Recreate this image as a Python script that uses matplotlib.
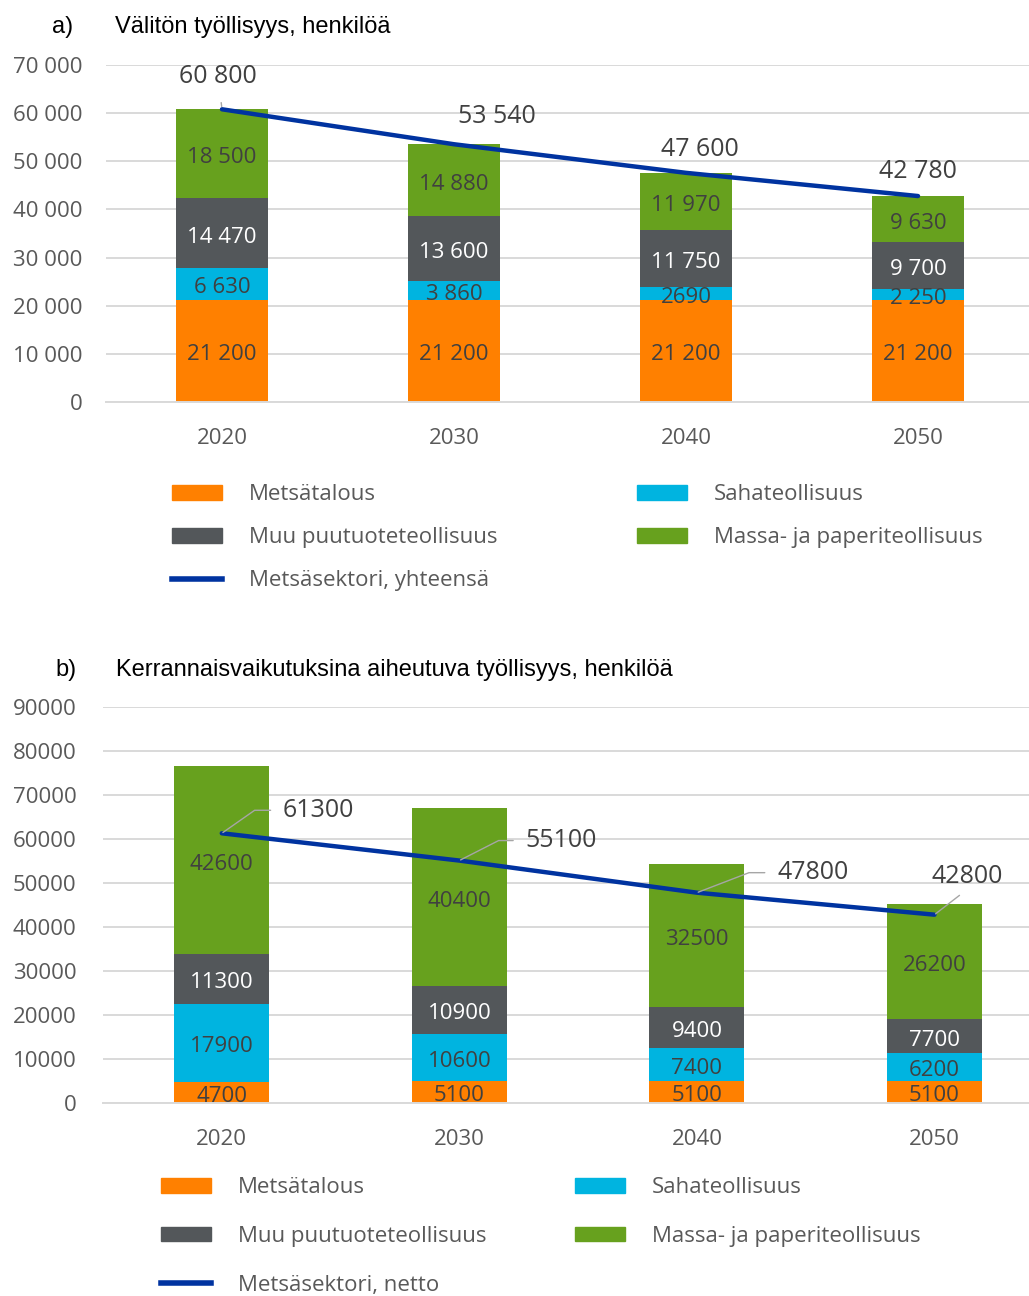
import matplotlib.pyplot as plt
from matplotlib.patches import Patch
from matplotlib.lines import Line2D

# Työllisyys metsäsektorilla 2020-2050
years = ["2020", "2030", "2040", "2050"]
sectors = ["Metsätalous", "Sahateollisuus", "Muu puutuoteteollisuus", "Massa- ja paperiteollisuus"]
colors = ["#FF8000", "#00B4E0", "#53575A", "#67A11E"]
txt_colors = ["#404040", "#404040", "white", "#404040"]

# a) välitön työllisyys
a_metsa = [21200, 21200, 21200, 21200]
a_saha = [6630, 3860, 2690, 2250]
a_muu = [14470, 13600, 11750, 9700]
a_massa = [18500, 14880, 11970, 9630]
a_total = [60800, 53540, 47600, 42780]
a_seg_labels = [
    ["21 200", "21 200", "21 200", "21 200"],
    ["6 630", "3 860", "2690", "2 250"],
    ["14 470", "13 600", "11 750", "9 700"],
    ["18 500", "14 880", "11 970", "9 630"],
]
a_tot_labels = ["60 800", "53 540", "47 600", "42 780"]

# b) kerrannaisvaikutukset
b_metsa = [4700, 5100, 5100, 5100]
b_saha = [17900, 10600, 7400, 6200]
b_muu = [11300, 10900, 9400, 7700]
b_massa = [42600, 40400, 32500, 26200]
b_netto = [61300, 55100, 47800, 42800]

BLUE = "#0033A0"
GRID = "#D9D9D9"
DARK = "#404040"
NUM_FONT = "Open Sans"
TITLE_FONT = "Liberation Sans"
FS = 16

fig = plt.figure(figsize=(10.29, 12.96), dpi=100)
W, H = 1029, 1296


def px_axes(left, top, right, bottom):
    return fig.add_axes([left / W, 1 - bottom / H, (right - left) / W, (bottom - top) / H])


def stacked(ax, series, seg_labels, xlim, ymax, ystep, tickfmt, tickpad):
    x = list(range(len(years)))
    bottom = [0] * len(years)
    for vals, col, tcol, labs in zip(series, colors, txt_colors, seg_labels):
        ax.bar(x, vals, width=0.4, bottom=bottom, color=col, zorder=2)
        for i, v in enumerate(vals):
            ax.annotate(labs[i], xy=(i, bottom[i] + v / 2), xytext=(0, -4),
                        textcoords="offset pixels", ha="center", va="center",
                        fontsize=FS, color=tcol, family=NUM_FONT, zorder=3)
        bottom = [b + v for b, v in zip(bottom, vals)]
    ax.set_xlim(*xlim)
    ax.set_ylim(0, ymax)
    ticks = list(range(0, ymax + 1, ystep))
    ax.set_yticks(ticks)
    ax.set_yticklabels([tickfmt(t) for t in ticks])
    ax.set_xticks(x)
    ax.set_xticklabels(years)
    ax.grid(axis="y", color=GRID, linewidth=1.4, zorder=0)
    ax.set_axisbelow(True)
    for s in ["top", "right", "left"]:
        ax.spines[s].set_visible(False)
    ax.spines["bottom"].set_color(GRID)
    ax.spines["bottom"].set_linewidth(1.4)
    ax.tick_params(length=0, colors="#595959", labelsize=FS)
    ax.tick_params(axis="y", pad=tickpad)
    ax.tick_params(axis="x", pad=19)
    for lab in ax.get_xticklabels() + ax.get_yticklabels():
        lab.set_family(NUM_FONT)
    return x


def legend(anchor, line_label, colspacing, labelspacing):
    handles = [
        Patch(color=colors[0]), Patch(color=colors[2]),
        Line2D([], [], color=BLUE, linewidth=4),
        Patch(color=colors[1]), Patch(color=colors[3]),
    ]
    labels = [sectors[0], sectors[2], line_label, sectors[1], sectors[3]]
    leg = fig.legend(handles, labels, loc="upper left",
                     bbox_to_anchor=(anchor[0] / W, 1 - anchor[1] / H),
                     ncol=2, frameon=False, borderpad=0, borderaxespad=0,
                     handlelength=2.25, handleheight=0.65, handletextpad=1.2,
                     columnspacing=colspacing, labelspacing=labelspacing,
                     prop={"family": NUM_FONT, "size": FS})
    for t in leg.get_texts():
        t.set_color("#595959")


# ---- a) ----
ax1 = px_axes(106, 65, 1029, 402)
x = stacked(ax1, [a_metsa, a_saha, a_muu, a_massa], a_seg_labels,
            (-0.5, (1029 - 222) / 232), 70000, 10000,
            lambda t: "0" if t == 0 else f"{t // 1000} 000", 17)
ax1.plot(x, a_total, color=BLUE, linewidth=3.2, solid_capstyle="round", zorder=4)
a_offsets = [(-4, 33), (43, 28), (14, 23), (0, 25)]
for i, (v, lab, off) in enumerate(zip(a_total, a_tot_labels, a_offsets)):
    arrow = dict(arrowstyle="-", color="#A6A6A6", lw=1, shrinkA=8, shrinkB=2) if i == 0 else None
    ax1.annotate(lab, xy=(i, v), xytext=off, textcoords="offset pixels",
                 ha="center", va="center", fontsize=18, color=DARK,
                 family=NUM_FONT, arrowprops=arrow, annotation_clip=False, zorder=5)

fig.text(52 / W, 1 - 27 / H, "a)", ha="left", va="center", fontsize=17,
         family=TITLE_FONT, color="black")
fig.text(115 / W, 1 - 27 / H, "Välitön työllisyys, henkilöä", ha="left", va="center",
         fontsize=17, family=TITLE_FONT, color="black")
legend((172, 484), "Metsäsektori, yhteensä", 6.3, 1.0)

# ---- b) ----
ax2 = px_axes(103, 707, 1029, 1103)
b_seg_labels = [[str(v) for v in s] for s in [b_metsa, b_saha, b_muu, b_massa]]
x = stacked(ax2, [b_metsa, b_saha, b_muu, b_massa], b_seg_labels,
            (-0.5, (1029 - 222) / 237.5), 90000, 10000, str, 19)
ax2.plot(x, b_netto, color=BLUE, linewidth=3.2, solid_capstyle="round", zorder=4)
b_offsets = [(97, 23), (102, 20), (116, 20), (33, 38)]
b_angles = [35, 27, 21, None]
for i, (v, off, ang) in enumerate(zip(b_netto, b_offsets, b_angles)):
    if ang is None:
        arrow = dict(arrowstyle="-", color="#A6A6A6", lw=1, shrinkA=4, shrinkB=1,
                     relpos=(0.5, 0))
    else:
        arrow = dict(arrowstyle="-", color="#A6A6A6", lw=1, shrinkA=7, shrinkB=1,
                     relpos=(0, 0.5),
                     connectionstyle=f"angle,angleA=0,angleB={ang},rad=0")
    ax2.annotate(str(v), xy=(i, v), xytext=off, textcoords="offset pixels",
                 ha="center", va="center", fontsize=18, color=DARK,
                 family=NUM_FONT, arrowprops=arrow, annotation_clip=False, zorder=5)

fig.text(55 / W, 1 - 670 / H, "b)", ha="left", va="center", fontsize=17,
         family=TITLE_FONT, color="black")
fig.text(116 / W, 1 - 670 / H, "Kerrannaisvaikutuksina aiheutuva työllisyys, henkilöä",
         ha="left", va="center", fontsize=17, family=TITLE_FONT, color="black")
legend((161, 1177), "Metsäsektori, netto", 4.0, 1.25)

fig.savefig("out.png", dpi=100)
